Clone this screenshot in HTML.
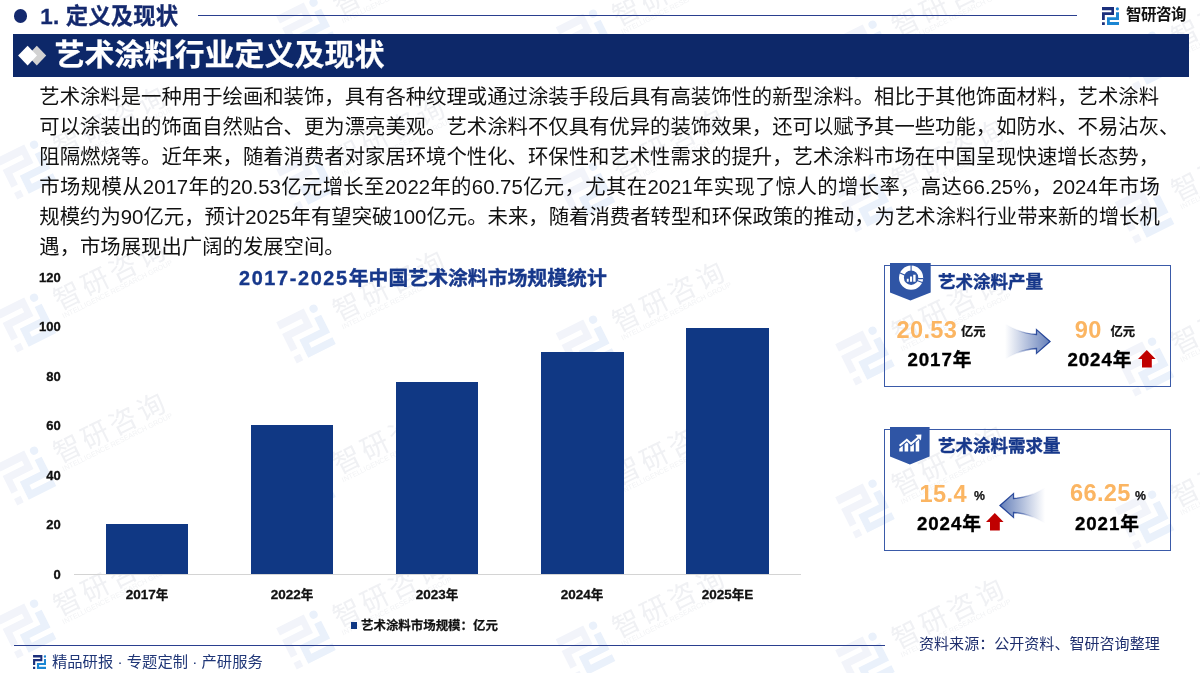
<!DOCTYPE html>
<html lang="zh-CN">
<head>
<meta charset="utf-8">
<title>艺术涂料行业定义及现状</title>
<style>
*{margin:0;padding:0;box-sizing:border-box}
html,body{width:1200px;height:673px;overflow:hidden;background:#fff}
body{position:relative;font-family:"Liberation Sans","Noto Sans CJK SC",sans-serif;color:#111}
.abs{position:absolute;white-space:nowrap}
.navy{color:#14296e}
.b{font-weight:700}
#hdr-dot{left:13.5px;top:9px;width:13.6px;height:13.6px;border-radius:50%;background:#14296e}
#hdr-title{left:40.3px;top:1.9px;font-size:22.4px;line-height:30px;font-weight:700;color:#14296e;letter-spacing:.15px;-webkit-text-stroke:.3px #14296e}
#hdr-line{left:198px;top:14.5px;width:879px;height:1.3px;background:#2a3f8f}
#brand{left:1126px;top:4px;font-size:15.5px;line-height:22px;font-weight:700;color:#111;letter-spacing:-0.5px}
#banner{left:13px;top:34.4px;width:1176px;height:42.4px;background:#0d2869}
#banner-title{left:54.5px;top:33.8px;-webkit-text-stroke:.25px #fff;font-size:30px;line-height:42px;font-weight:700;color:#fff}
.pl{left:39.3px;font-size:20.36px;line-height:30px;height:30px;color:#111}
.pj{width:1120.5px;text-align:justify;text-align-last:justify}

#ctitle{left:239px;top:263px;font-size:19.85px;line-height:30px;font-weight:700;color:#17388b;-webkit-text-stroke:.35px #17388b}
.yl{left:19.2px;width:41.5px;text-align:right;font-size:13px;line-height:16px;font-weight:700;color:#111;-webkit-text-stroke:.3px #111}
.bar{background:#103884;width:82.5px}
#axis{left:74px;top:573.8px;width:727px;height:1.2px;background:#d4d4d4}
.xl{width:120px;text-align:center;font-size:13.5px;line-height:16px;font-weight:700;color:#111;top:587.3px;-webkit-text-stroke:.3px #111}
.xl i{font-style:normal;font-size:12.6px}
#lg-sq{left:350.5px;top:622px;width:6.6px;height:6.8px;background:#103884}
#lg-tx{left:361px;top:616.5px;font-size:12.45px;line-height:18px;font-weight:700;color:#111;-webkit-text-stroke:.25px #111}
#ft-line{left:13.5px;top:644.8px;width:871.5px;height:1.4px;background:#2a3f8f}
#ft-tx{left:52px;top:651px;font-size:15.3px;line-height:22px;color:#1f3677}
#src{left:919px;top:633px;font-size:15.06px;line-height:22px;color:#1f2f6e}
.box{left:884px;width:287.3px;height:122px;border:1.4px solid #3a5aa8}
.ptitle{left:938px;font-size:17.5px;line-height:24px;font-weight:700;color:#17388b;-webkit-text-stroke:.35px #17388b}
.big{font-size:23.6px;line-height:28px;font-weight:700;color:#fbb562;letter-spacing:.35px}
.unit{font-size:12.3px;line-height:16px;font-weight:700;color:#111;-webkit-text-stroke:.25px #111}
.yr{font-size:18.7px;line-height:24px;font-weight:700;color:#000;letter-spacing:.9px;-webkit-text-stroke:.35px #000}
</style>
</head>
<body>

<svg width="0" height="0" style="position:absolute">
<defs>
<g id="wm">
<g transform="translate(-21.8,-23) scale(2.56)"><path fill="#f2f4fa" d="M0 0H12V8.1H2.8V12.9H0V5.2H9.4V3.2H0ZM0 15.2H2.8V18H0Z"/><path fill="#eaf1fb" d="M14 5.2H17V13H7.8V15.1H17V18H5V10.2H14Z"/><circle fill="#eaf1fb" cx="15.4" cy="1.8" r="1.6"/></g>
<text x="34.5" y="4.5" font-size="27.5" letter-spacing="3.6" fill="#f0f1f4">智研咨询</text>
<text x="35" y="13.5" font-size="7.2" textLength="122" lengthAdjust="spacingAndGlyphs" fill="#f2f3f5">INTELLIGENCE RESEARCH GROUP</text>
</g>
<symbol id="logo" viewBox="0 0 17 18">
<path fill="#1b2f7c" d="M0 0H12V8.1H2.8V12.9H0V5.2H9.4V3.2H0ZM0 15.2H2.8V18H0Z"/>
<path fill="#1b86d3" d="M14 5.2H17V13H7.8V15.1H17V18H5V10.2H14Z"/><circle fill="#1b86d3" cx="15.4" cy="1.8" r="1.6"/>
</symbol>
<linearGradient id="ag" x1="0" x2="1" y1="0" y2="0"><stop offset="0" stop-color="#4a69ad" stop-opacity="0"/><stop offset=".1" stop-color="#4a69ad" stop-opacity=".08"/><stop offset="1" stop-color="#4a69ad" stop-opacity=".85"/></linearGradient>
<linearGradient id="as" x1="0" x2="1" y1="0" y2="0"><stop offset="0" stop-color="#1f4096" stop-opacity="0"/><stop offset=".25" stop-color="#1f4096" stop-opacity=".05"/><stop offset=".7" stop-color="#1f4096" stop-opacity=".9"/><stop offset="1" stop-color="#1f4096" stop-opacity="1"/></linearGradient>
<symbol id="arrow" viewBox="0 0 46 36" overflow="visible">
<path fill="url(#ag)" stroke="url(#as)" stroke-width="1.3" stroke-linejoin="miter" d="M0 0C10 6 20 10 31.5 10.5V5.6L45 17.5 31.5 29.4V24.5C20 25 10 29 0 35Z"/>
</symbol>
</defs>
</svg>
<svg class="abs" style="left:0;top:0;font-family:'Liberation Sans','Noto Sans CJK SC',sans-serif" width="1200" height="673" viewBox="0 0 1200 673">
<use href="#wm" transform="translate(26.5,169.0) rotate(-26.5)"/>
<use href="#wm" transform="translate(26.5,322.0) rotate(-26.5)"/>
<use href="#wm" transform="translate(26.5,475.0) rotate(-26.5)"/>
<use href="#wm" transform="translate(26.5,628.0) rotate(-26.5)"/>
<use href="#wm" transform="translate(306.0,27.0) rotate(-26.5)"/>
<use href="#wm" transform="translate(306.0,180.0) rotate(-26.5)"/>
<use href="#wm" transform="translate(306.0,333.0) rotate(-26.5)"/>
<use href="#wm" transform="translate(306.0,486.0) rotate(-26.5)"/>
<use href="#wm" transform="translate(306.0,639.0) rotate(-26.5)"/>
<use href="#wm" transform="translate(585.5,38.0) rotate(-26.5)"/>
<use href="#wm" transform="translate(585.5,191.0) rotate(-26.5)"/>
<use href="#wm" transform="translate(585.5,344.0) rotate(-26.5)"/>
<use href="#wm" transform="translate(585.5,497.0) rotate(-26.5)"/>
<use href="#wm" transform="translate(585.5,650.0) rotate(-26.5)"/>
<use href="#wm" transform="translate(865.0,49.0) rotate(-26.5)"/>
<use href="#wm" transform="translate(865.0,202.0) rotate(-26.5)"/>
<use href="#wm" transform="translate(865.0,355.0) rotate(-26.5)"/>
<use href="#wm" transform="translate(865.0,508.0) rotate(-26.5)"/>
<use href="#wm" transform="translate(865.0,661.0) rotate(-26.5)"/>
<use href="#wm" transform="translate(1144.5,60.0) rotate(-26.5)"/>
<use href="#wm" transform="translate(1144.5,213.0) rotate(-26.5)"/>
<use href="#wm" transform="translate(1144.5,366.0) rotate(-26.5)"/>
<use href="#wm" transform="translate(1144.5,519.0) rotate(-26.5)"/>
</svg>
<div class="abs" id="hdr-dot"></div>
<div class="abs" id="hdr-title">1. 定义及现状</div>
<div class="abs" id="hdr-line"></div>
<div class="abs" id="brand">智研咨询</div>
<div class="abs" id="banner"></div>
<svg class="abs" style="left:16px;top:44px" width="32" height="24" viewBox="16 44 32 24"><polygon points="36.8,45.8 46.2,55.6 36.8,65.4 27.4,55.6" fill="#d2d2d2"/><polygon points="27.6,45.8 37,55.6 27.6,65.4 18.1,55.6" fill="#fff"/></svg>
<div class="abs" id="banner-title">艺术涂料行业定义及现状</div>

<div class="abs pl" style="top:81.5px">艺术涂料是一种用于绘画和装饰，具有各种纹理或通过涂装手段后具有高装饰性的新型涂料。相比于其他饰面材料，艺术涂料</div>
<div class="abs pl" style="top:111.5px">可以涂装出的饰面自然贴合、更为漂亮美观。艺术涂料不仅具有优异的装饰效果，还可以赋予其一些功能，如防水、不易沾灰、</div>
<div class="abs pl" style="top:141.5px">阻隔燃烧等。近年来，随着消费者对家居环境个性化、环保性和艺术性需求的提升，艺术涂料市场在中国呈现快速增长态势，</div>
<div class="abs pl pj" style="top:171.5px">市场规模从2017年的20.53亿元增长至2022年的60.75亿元，尤其在2021年实现了惊人的增长率，高达66.25%，2024年市场</div>
<div class="abs pl pj" style="top:201.5px">规模约为90亿元，预计2025年有望突破100亿元。未来，随着消费者转型和环保政策的推动，为艺术涂料行业带来新的增长机</div>
<div class="abs pl" style="top:231.5px">遇，市场展现出广阔的发展空间。</div>

<!-- chart -->
<div class="abs" id="ctitle"><span style="letter-spacing:1.65px">2017-2025</span>年中国艺术涂料市场规模统计</div>
<div class="abs yl" style="top:269.7px">120</div>
<div class="abs yl" style="top:319.1px">100</div>
<div class="abs yl" style="top:368.5px">80</div>
<div class="abs yl" style="top:418px">60</div>
<div class="abs yl" style="top:467.5px">40</div>
<div class="abs yl" style="top:517px">20</div>
<div class="abs yl" style="top:566.5px">0</div>
<div class="abs bar" style="left:105.7px;top:524.2px;height:50px"></div>
<div class="abs bar" style="left:250.7px;top:424.6px;height:149.6px"></div>
<div class="abs bar" style="left:395.7px;top:382px;height:192.2px"></div>
<div class="abs bar" style="left:541px;top:352px;height:222.2px"></div>
<div class="abs bar" style="left:686px;top:327.5px;height:246.7px"></div>
<div class="abs" id="axis"></div>
<div class="abs xl" style="left:87px">2017<i>年</i></div>
<div class="abs xl" style="left:232px">2022<i>年</i></div>
<div class="abs xl" style="left:377px">2023<i>年</i></div>
<div class="abs xl" style="left:522px">2024<i>年</i></div>
<div class="abs xl" style="left:667.5px">2025<i>年</i>E</div>
<div class="abs" id="lg-sq"></div>
<div class="abs" id="lg-tx">艺术涂料市场规模：亿元</div>
<!-- footer -->
<div class="abs" id="ft-line"></div>
<div class="abs" id="ft-tx">精品研报 · 专题定制 · 产研服务</div>
<div class="abs" id="src">资料来源：公开资料、智研咨询整理</div>
<!-- panel 1 -->
<div class="abs box" style="top:265px"></div>
<div class="abs ptitle" style="top:269.5px">艺术涂料产量</div>
<div class="abs big" style="left:896.5px;top:315.7px">20.53</div>
<div class="abs unit" style="left:961px;top:323.5px">亿元</div>
<div class="abs yr" style="left:907.5px;top:348px">2017年</div>
<div class="abs big" style="left:1074.7px;top:315.7px">90</div>
<div class="abs unit" style="left:1110.5px;top:323.5px">亿元</div>
<div class="abs yr" style="left:1067.5px;top:348px">2024年</div>
<!-- panel 2 -->
<div class="abs box" style="top:429px"></div>
<div class="abs ptitle" style="top:433.5px">艺术涂料需求量</div>
<div class="abs big" style="left:919.6px;top:479.7px">15.4</div>
<div class="abs unit" style="left:974px;top:487.5px">%</div>
<div class="abs yr" style="left:917px;top:512px">2024年</div>
<div class="abs big" style="left:1070px;top:478.7px">66.25</div>
<div class="abs unit" style="left:1135px;top:487.5px">%</div>
<div class="abs yr" style="left:1075px;top:512px">2021年</div>

<svg class="abs" style="left:1102px;top:7px" width="17" height="18"><use href="#logo"/></svg>
<svg class="abs" style="left:33px;top:655px" width="13.3" height="14"><use href="#logo"/></svg>
<!-- tags -->
<svg class="abs" style="left:890px;top:263.3px" width="41" height="38" viewBox="0 0 41 38"><path fill="#2f55a5" d="M0 0H40.7V29.6L20.4 37.5 0 29.6Z"/>
<circle cx="21.1" cy="14.7" r="9.65" fill="none" stroke="#fff" stroke-width="4.9"/>
<path stroke="#2f55a5" stroke-width="1.1" fill="none" d="M21.1 0V8M8.5 9.2L15 12.3M33.5 15.6H27M33 19.8L27 17.6"/>
<path fill="#fff" d="M16.8 15.8h1.9v2.9h-1.9zM20 13.6h2.1v5.1H20zM23.2 11.8h2.4v6.9h-2.4z"/>
</svg>
<svg class="abs" style="left:890px;top:427.3px" width="41" height="38" viewBox="0 0 41 38"><path fill="#2f55a5" d="M0 0H39.6V29.6L19.9 37.5 0 29.6Z"/>
<path fill="#fff" d="M9.3 21.5L12.8 18.65V24.5H9.3zM14.6 17.2L16.8 15.4 18.2 16.7V24.5H14.6zM20.3 18.7L21 19.4 23.9 16.9V24.5H20.3zM25.7 15.35L29.2 12.35V24.5H25.7z"/>
<path fill="none" stroke="#fff" stroke-width="2" d="M9.6 18.7L16.8 12.8 21 16.8 28.6 10.2"/><path fill="#fff" d="M25.3 7.8L31.4 7.5 31 13.6Z"/>
</svg>
<!-- arrows -->
<svg class="abs" style="left:1005px;top:324px" width="46" height="36"><use href="#arrow"/></svg>
<svg class="abs" style="left:999px;top:488px;transform:scaleX(-1)" width="46" height="36"><use href="#arrow"/></svg>
<svg class="abs" style="left:1138px;top:350px" width="18" height="18" viewBox="0 0 18 18"><path fill="#c00000" d="M8.8 0L17.6 9H13.8V17.4H4V9H0Z"/></svg>
<svg class="abs" style="left:986px;top:513.3px" width="18" height="18" viewBox="0 0 18 18"><path fill="#c00000" d="M8.8 0L17.6 9H13.8V17.4H4V9H0Z"/></svg>
</body>
</html>
